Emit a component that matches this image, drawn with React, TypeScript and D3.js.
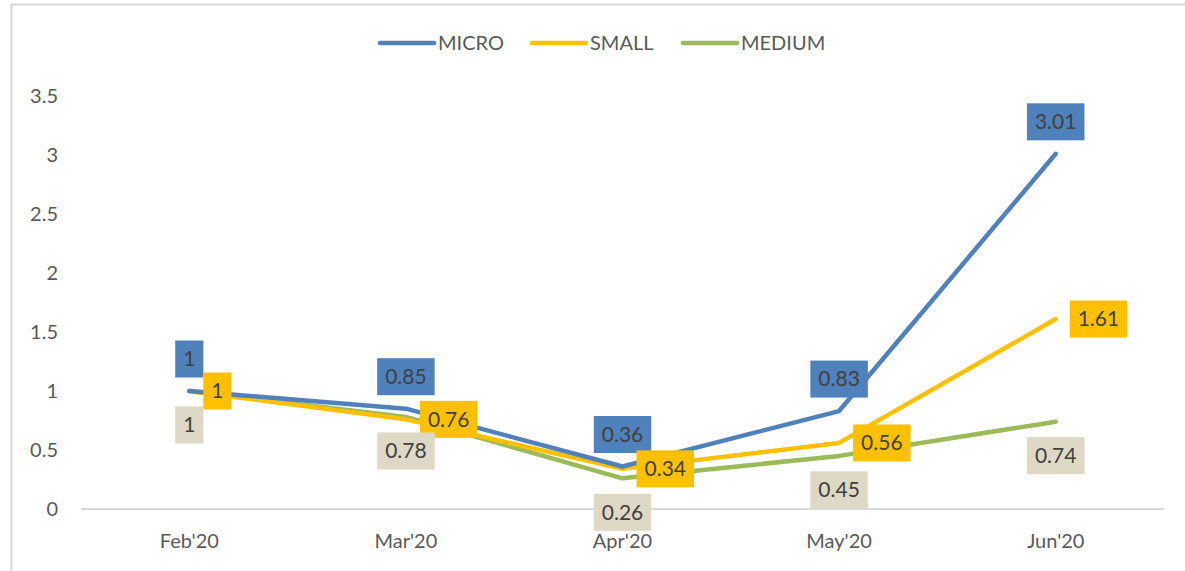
import { useEffect, useRef } from "react";
import * as d3 from "d3";

const WIDTH = 1185;
const HEIGHT = 571;
const MARGIN = { top: 96, right: 21, bottom: 62, left: 81 };

const months = ["Feb'20", "Mar'20", "Apr'20", "May'20", "Jun'20"];
const micro = [1, 0.85, 0.36, 0.83, 3.01];
const small = [1, 0.76, 0.34, 0.56, 1.61];
const medium = [1, 0.78, 0.26, 0.45, 0.74];
const yTicks = [0, 0.5, 1, 1.5, 2, 2.5, 3, 3.5];

const FONT = "Lato, 'Open Sans', sans-serif";

// label placement: above / right / below the point
const series = [
  { name: "MICRO", values: micro, color: "#4F81BD", box: "#4F81BD", pos: "above" },
  { name: "SMALL", values: small, color: "#FFC000", box: "#FFC000", pos: "right" },
  { name: "MEDIUM", values: medium, color: "#9BBB59", box: "#DDD9C4", pos: "below" },
];

const legendX = [380, 532, 683];

export default function App() {
  const ref = useRef<SVGSVGElement | null>(null);

  useEffect(() => {
    const svg = d3.select(ref.current);
    svg.selectAll("*").remove();

    const x = d3
      .scalePoint<string>()
      .domain(months)
      .range([MARGIN.left, WIDTH - MARGIN.right])
      .padding(0.5);
    const y = d3
      .scaleLinear()
      .domain([0, 3.5])
      .range([HEIGHT - MARGIN.bottom, MARGIN.top]);

    // chart frame
    svg
      .append("path")
      .attr("d", `M11.5,${HEIGHT} V4.5 H${WIDTH}`)
      .attr("fill", "none")
      .attr("stroke", "#D9D9D9")
      .attr("stroke-width", 2);

    // baseline
    svg
      .append("line")
      .attr("x1", MARGIN.left)
      .attr("x2", WIDTH - MARGIN.right)
      .attr("y1", y(0))
      .attr("y2", y(0))
      .attr("stroke", "#D9D9D9")
      .attr("stroke-width", 2);

    // y tick labels
    svg
      .append("g")
      .selectAll("text")
      .data(yTicks)
      .join("text")
      .attr("x", 58)
      .attr("y", (d) => y(d))
      .attr("dy", "0.35em")
      .attr("text-anchor", "end")
      .attr("font-family", FONT)
      .attr("font-size", 20)
      .attr("fill", "#595959")
      .text((d) => String(d));

    // x labels
    svg
      .append("g")
      .selectAll("text")
      .data(months)
      .join("text")
      .attr("x", (d) => x(d)!)
      .attr("y", 548)
      .attr("text-anchor", "middle")
      .attr("font-family", FONT)
      .attr("font-size", 20)
      .attr("fill", "#595959")
      .text((d) => d);

    const line = d3
      .line<number>()
      .x((_, i) => x(months[i])!)
      .y((d) => y(d));

    // draw lines bottom-up so MICRO sits on top
    [...series].reverse().forEach((s) => {
      svg
        .append("path")
        .datum(s.values)
        .attr("d", line)
        .attr("fill", "none")
        .attr("stroke", s.color)
        .attr("stroke-width", 4.5)
        .attr("stroke-linecap", "round")
        .attr("stroke-linejoin", "round");
    });

    // data labels
    const labels = svg.append("g");
    series.forEach((s) => {
      s.values.forEach((v, i) => {
        const px = x(months[i])!;
        const py = y(v);
        const g = labels.append("g");
        const t = g
          .append("text")
          .attr("text-anchor", "middle")
          .attr("dy", "0.35em")
          .attr("font-family", FONT)
          .attr("font-size", 21)
          .attr("fill", "#404040")
          .text(String(v));
        const w = (t.node() as SVGTextElement).getComputedTextLength() + 16;
        const h = 37;
        let cx = px;
        let cy = py;
        if (s.pos === "above") cy = py - 32;
        else if (s.pos === "below") cy = py + 34;
        else cx = px + 14 + w / 2;
        g.insert("rect", "text")
          .attr("x", cx - w / 2)
          .attr("y", cy - h / 2)
          .attr("width", w)
          .attr("height", h)
          .attr("fill", s.box);
        t.attr("x", cx).attr("y", cy);
      });
    });

    // legend
    series.forEach((s, i) => {
      const lx = legendX[i];
      svg
        .append("line")
        .attr("x1", lx)
        .attr("x2", lx + 54)
        .attr("y1", 43)
        .attr("y2", 43)
        .attr("stroke", s.color)
        .attr("stroke-width", 4.5)
        .attr("stroke-linecap", "round");
      svg
        .append("text")
        .attr("x", lx + 58)
        .attr("y", 43)
        .attr("dy", "0.35em")
        .attr("font-family", FONT)
        .attr("font-size", 20)
        .attr("fill", "#595959")
        .text(s.name);
    });
  }, []);

  return (
    <svg
      ref={ref}
      width={WIDTH}
      height={HEIGHT}
      style={{ position: "absolute", left: 0, top: 0, background: "#fff" }}
    />
  );
}
